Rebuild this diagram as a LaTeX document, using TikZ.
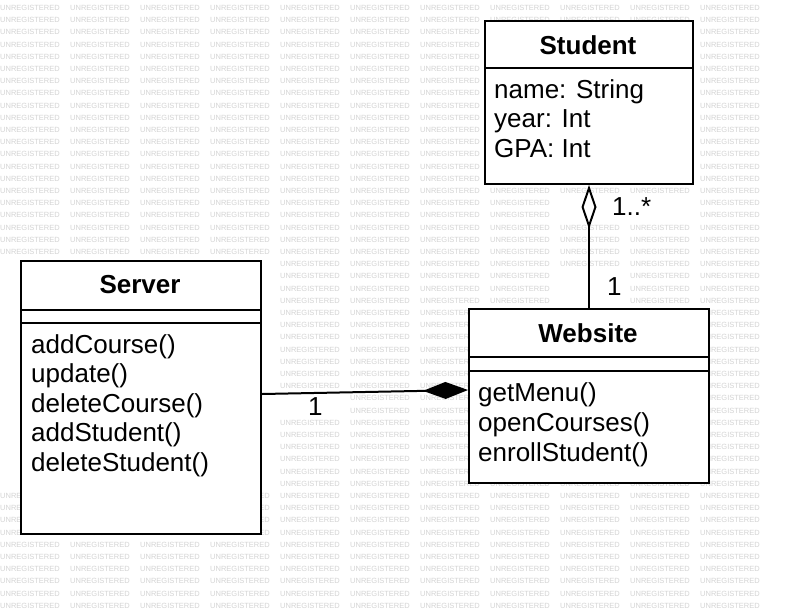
\documentclass[tikz,border=0pt]{standalone}
\usepackage{fontspec}
\setmainfont{Liberation Sans}
\usetikzlibrary{arrows.meta,positioning,calc}

\tikzset{
  classbox/.style={draw, line width=2pt, fill=white, anchor=north west, inner sep=0pt},
  classname/.style={anchor=base, inner sep=0pt, font=\fontsize{26}{30}\selectfont\bfseries},
  member/.style={anchor=base west, inner sep=0pt, font=\fontsize{26}{30}\selectfont},
  mult/.style={anchor=base west, inner sep=1pt, fill=white, font=\fontsize{26}{30}\selectfont},
  assoc/.style={line width=2pt},
  watermark/.style={anchor=west, inner sep=0pt, text=black!17, font=\fontsize{7.5}{8}\selectfont}
}

\begin{document}
\begin{tikzpicture}[x=1pt,y=-1pt]
    \useasboundingbox (0,0) rectangle (790,614);
    \fill[white] (0,0) rectangle (790,614);

    % Watermark (left out where the class texts and labels sit)
    \foreach \row in {0,...,49} {
        \foreach \col in {0,...,10} {
            \pgfmathsetmacro{\wx}{\col*70}
            \pgfmathsetmacro{\wy}{8+\row*12.2}
            \pgfmathtruncatemacro{\hide}{
                (\wx+60>492 && \wx<648 && \wy+4>28 && \wy-4<164) ||
                (\wx+60>29 && \wx<212 && \wy+4>268 && \wy-4<480) ||
                (\wx+60>480 && \wx<654 && \wy+4>318 && \wy-4<470) ||
                (\wx+60>610 && \wx<652 && \wy+4>196 && \wy-4<217) ||
                (\wx+60>605 && \wx<622 && \wy+4>274 && \wy-4<297) ||
                (\wx+60>306 && \wx<323 && \wy+4>394 && \wy-4<417)}
            \ifnum\hide=0
                \node[watermark] (wm-\row-\col) at (\wx,\wy) {UNREGISTERED};
            \fi
        }
    }

    % Student class
    \node[classbox, minimum width=208pt, minimum height=163pt] (student) at (484,20) {};
    \draw[line width=2pt] ($(student.north west)+(0,48)$) -- ($(student.north east)+(0,48)$);
    \node[classname] (studenttitle) at (588,54) {Student};
    \node[member] (stname) at (494,98) {name: String};
    \node[member] (styear) at (494,127.5) {year: Int};
    \node[member] (stgpa) at (494,157) {GPA: Int};

    % Server class
    \node[classbox, minimum width=240pt, minimum height=273pt] (server) at (20,260) {};
    \draw[line width=2pt] ($(server.north west)+(0,50)$) -- ($(server.north east)+(0,50)$);
    \draw[line width=2pt] ($(server.north west)+(0,63)$) -- ($(server.north east)+(0,63)$);
    \node[classname] (servertitle) at (140,293) {Server};
    \node[member] (svadd) at (31,353) {addCourse()};
    \node[member] (svupdate) at (31,382.5) {update()};
    \node[member] (svdel) at (31,412) {deleteCourse()};
    \node[member] (svaddst) at (31,441.5) {addStudent()};
    \node[member] (svdelst) at (31,471) {deleteStudent()};

    % Website class
    \node[classbox, minimum width=240pt, minimum height=174pt] (website) at (468,308) {};
    \draw[line width=2pt] ($(website.north west)+(0,49)$) -- ($(website.north east)+(0,49)$);
    \draw[line width=2pt] ($(website.north west)+(0,63)$) -- ($(website.north east)+(0,63)$);
    \node[classname] (websitetitle) at (588,342) {Website};
    \node[member] (wsmenu) at (478,401) {getMenu()};
    \node[member] (wsopen) at (478,431) {openCourses()};
    \node[member] (wsenroll) at (478,461) {enrollStudent()};

    % Aggregation and composition
    \draw[assoc, -{Diamond[open, length=44pt, width=15pt]}] (website.north) -- (student.south);
    \draw[assoc, -{Diamond[length=45pt, width=17pt]}] ([yshift=3.5pt]server.east) -- ([yshift=6pt]website.west);

    % Multiplicities
    \node[mult] (multmany) at (611,215) {1..*};
    \node[mult] (multone) at (606,295) {1};
    \node[mult] (multsrv) at (307,415) {1};
\end{tikzpicture}
\end{document}
